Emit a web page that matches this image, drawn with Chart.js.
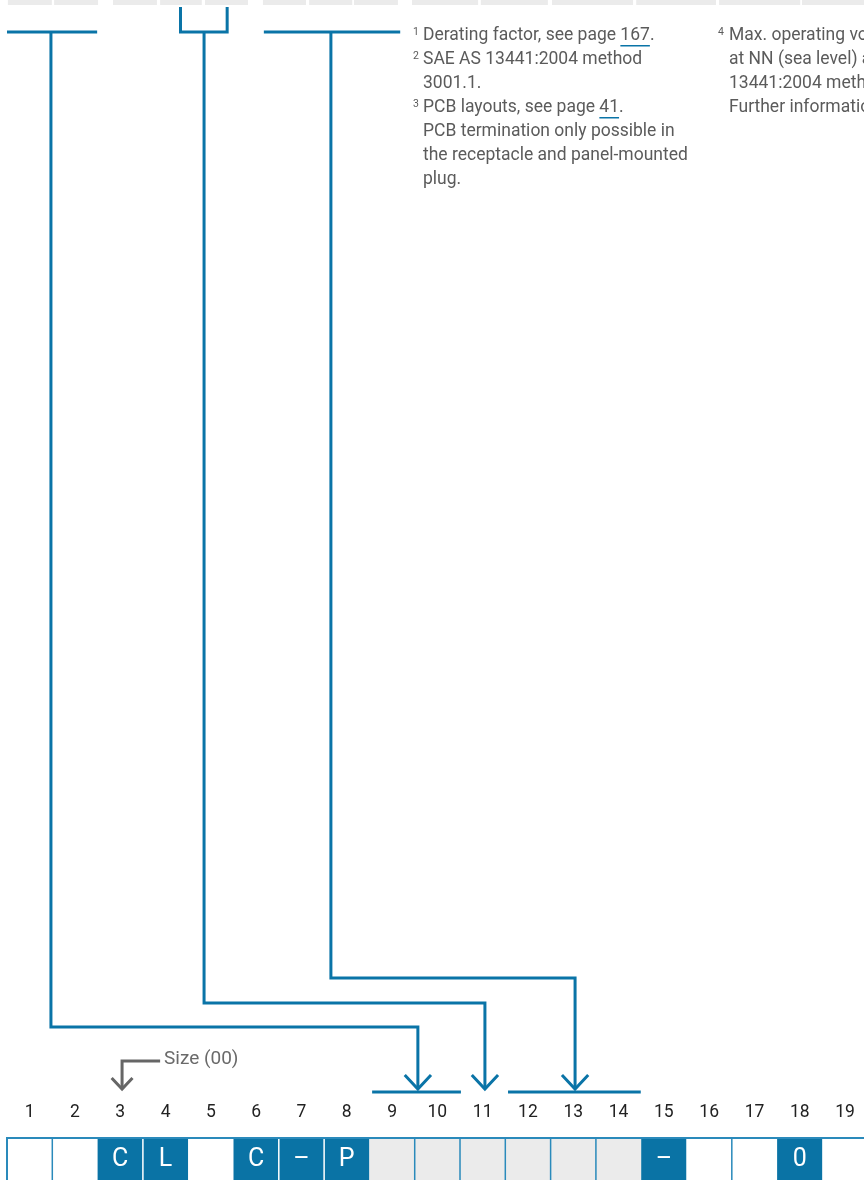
<!DOCTYPE html>
<html>
<head>
<meta charset="utf-8">
<title>Part number key</title>
<script src="https://cdn.jsdelivr.net/npm/chart.js@4"></script>
<style>
    html, body { margin: 0; padding: 0; background: #fff; }
    #key { display: block; }
</style>
</head>
<body>
<canvas id="key" width="864" height="1180"></canvas>
<script>
// ─── Data ─────────────────────────────────────────────────────────────────
const positions = [1, 2, 3, 4, 5, 6, 7, 8, 9, 10, 11, 12, 13, 14, 15, 16, 17, 18, 19];
const codes = ['', '', 'C', 'L', '', 'C', '–', 'P', '', '', '', '', '', '', '–', '', '', '0', ''];
// fixed = preset character, open = to be chosen, blank = empty
const states = ['blank', 'blank', 'fixed', 'fixed', 'blank', 'fixed', 'fixed', 'fixed',
    'open', 'open', 'open', 'open', 'open', 'open', 'fixed', 'blank', 'blank', 'fixed', 'blank'];

// brackets from the table above down to the positions (x in position units)
const sourceSpans = [[0.5, 2.49], [4.33, 5.36], [6.17, 9.18]];
const sourceShapes = ['T', 'U', 'T'];
const sourceStems = [1.47, 4.85, 7.65];
const targetCells = [9.57, 11.05, 13.04];
const targetSpans = [[8.56, 10.52], null, [11.56, 14.49]];
const sizeTarget = 3.04;

// columns of the table above (cut off at the top of the page)
const upperCols = [[0.52, 1.49], [1.54, 2.51], [2.84, 3.81], [3.88, 4.80], [4.87, 5.82],
    [6.15, 7.10], [7.17, 8.12], [8.16, 9.13], [9.44, 10.9], [10.96, 12.44],
    [12.53, 14.32], [14.39, 16.15], [16.22, 18.01], [18.05, 19.6]];

const notesLeft = [
    { sup: '1', text: 'Derating factor, see page ', link: '167', tail: '.' },
    { sup: '2', text: 'SAE AS 13441:2004 method' },
    { text: '3001.1.' },
    { sup: '3', text: 'PCB layouts, see page ', link: '41', tail: '.' },
    { text: 'PCB termination only possible in' },
    { text: 'the receptacle and panel-mounted' },
    { text: 'plug.' }
];
const notesRight = [
    { sup: '4', text: 'Max. operating voltage' },
    { text: 'at NN (sea level) acc. to SAE AS' },
    { text: '13441:2004 method 3001.1.' },
    { text: 'Further information on request.' }
];

// ─── Layout ───────────────────────────────────────────────────────────────
const BLUE = '#0a74a7';
const CELL_BLUE = '#0a73a5';
const GREY_CELL = '#ebebeb';
const DIVIDER = '#2a8abb';
const FONT = 'Roboto, "Noto Sans", sans-serif';

const Y_TOP_BAR = 32, Y_U_TOP = 7, Y_TIP = 1090, Y_SPAN = 1092;
const routeLevels = [1027, 1003, 978];
const Y_CELL_TOP = 1139, Y_CELL_BOTTOM = 1182;

const cellColor = s => s === 'fixed' ? CELL_BLUE : s === 'open' ? GREY_CELL : '#ffffff';

function lineSet(points, color) {
    return {
        type: 'line',
        data: points.map(([x, y]) => ({ x, y })),
        borderColor: color || BLUE,
        borderWidth: 3,
        pointRadius: 0,
        fill: false,
        tension: 0,
        borderJoinStyle: 'miter',
        borderCapStyle: 'butt',
        order: 1
    };
}

function arrowHead(x, tip, half, height, color) {
    return lineSet([[x - half, tip - height], [x, tip], [x + half, tip - height]], color);
}

const lineSets = [];
sourceSpans.forEach((span, i) => {
    const [a, b] = span;
    if (sourceShapes[i] === 'U') {
        lineSets.push(lineSet([[a, Y_U_TOP], [a, Y_TOP_BAR], [b, Y_TOP_BAR], [b, Y_U_TOP]]));
    } else {
        lineSets.push(lineSet([[a, Y_TOP_BAR], [b, Y_TOP_BAR]]));
    }
    lineSets.push(lineSet([
        [sourceStems[i], Y_TOP_BAR],
        [sourceStems[i], routeLevels[i]],
        [targetCells[i], routeLevels[i]],
        [targetCells[i], Y_TIP - 2]
    ]));
    lineSets.push(arrowHead(targetCells[i], Y_TIP - 1, 0.29, 14));
    if (targetSpans[i]) {
        lineSets.push(lineSet([[targetSpans[i][0], Y_SPAN], [targetSpans[i][1], Y_SPAN]]));
    }
});
// "Size (00)" pointer
lineSets.push(lineSet([[3.88, 1061], [sizeTarget, 1061], [sizeTarget, Y_TIP - 2]], '#666666'));
lineSets.push(arrowHead(sizeTarget, Y_TIP - 1, 0.23, 11, '#666666'));

// ─── Drawing plugin ───────────────────────────────────────────────────────
function drawNote(ctx, note, xSup, xText, yMid) {
    ctx.textBaseline = 'middle';
    ctx.fillStyle = '#5b5b5b';
    if (note.sup) {
        ctx.font = '10.5px ' + FONT;
        ctx.fillText(note.sup, xSup, yMid - 4);
    }
    ctx.font = '17.5px ' + FONT;
    let x = xText;
    ctx.fillText(note.text, x, yMid);
    x += ctx.measureText(note.text).width;
    if (note.link) {
        const w = ctx.measureText(note.link).width;
        ctx.fillText(note.link, x, yMid);
        ctx.fillStyle = BLUE;
        ctx.fillRect(x, yMid + 9, w, 1.5);
        ctx.fillStyle = '#5b5b5b';
        x += w;
        ctx.fillText(note.tail, x, yMid);
    }
}

const diagramPlugin = {
    id: 'diagram',
    beforeDatasetsDraw(chart) {
        const { ctx, scales: { x } } = chart;
        ctx.save();
        ctx.fillStyle = GREY_CELL;
        upperCols.forEach(([a, b]) => {
            const xa = x.getPixelForValue(a);
            ctx.fillRect(xa, 0, x.getPixelForValue(b) - xa, 5);
        });
        ctx.restore();
    },
    afterDatasetsDraw(chart) {
        const { ctx, scales: { x, y } } = chart;
        ctx.save();
        const top = y.getPixelForValue(Y_CELL_TOP);
        const left = x.getPixelForValue(positions[0] - 0.5);

        // frame of the position row
        ctx.fillStyle = DIVIDER;
        ctx.fillRect(left, top - 2, chart.width - left, 2);
        ctx.fillRect(left - 1, top - 2, 2, chart.height - top + 2);

        // dividers between cells
        for (let i = 0; i < positions.length - 1; i++) {
            const bx = x.getPixelForValue(positions[i] + 0.5);
            const a = states[i], b = states[i + 1];
            if (a === 'fixed' && b === 'fixed') ctx.fillStyle = '#ffffff';
            else if (a === 'fixed' || b === 'fixed') continue;
            else ctx.fillStyle = DIVIDER;
            ctx.fillRect(bx - 0.75, top, 1.5, chart.height - top);
        }

        // characters in the cells
        ctx.fillStyle = '#ffffff';
        ctx.textAlign = 'center';
        ctx.textBaseline = 'middle';
        ctx.font = '400 25px ' + FONT;
        codes.forEach((c, i) => {
            if (c) ctx.fillText(c, x.getPixelForValue(positions[i]), top + 21);
        });

        // position numbers
        ctx.fillStyle = '#222222';
        ctx.font = '17.5px ' + FONT;
        positions.forEach(p => ctx.fillText(String(p), x.getPixelForValue(p), 1113));

        // size label
        ctx.textAlign = 'left';
        ctx.fillStyle = '#6a6a6a';
        ctx.font = '19px ' + FONT;
        ctx.fillText('Size (00)', 164, 1059);

        // footnotes
        ctx.textAlign = 'left';
        notesLeft.forEach((n, i) => drawNote(ctx, n, 413, 423, 36 + 24 * i));
        notesRight.forEach((n, i) => drawNote(ctx, n, 718, 729, 36 + 24 * i));
        ctx.restore();
    }
};

// ─── Chart ────────────────────────────────────────────────────────────────
new Chart(document.getElementById('key').getContext('2d'), {
    type: 'bar',
    data: {
        datasets: [
            {
                type: 'bar',
                data: positions.map(p => ({ x: p, y: [Y_CELL_TOP, Y_CELL_BOTTOM] })),
                backgroundColor: states.map(cellColor),
                borderWidth: 0,
                barPercentage: 1,
                categoryPercentage: 1,
                inflateAmount: 0,
                order: 2
            },
            ...lineSets
        ]
    },
    options: {
        responsive: false,
        animation: false,
        layout: { padding: 0 },
        plugins: { legend: { display: false }, tooltip: { enabled: false } },
        scales: {
            x: { type: 'linear', min: 0.3455, max: 19.418, offset: false, display: false },
            y: { type: 'linear', min: 0, max: 1180, reverse: true, display: false }
        }
    },
    plugins: [diagramPlugin]
});
</script>
</body>
</html>
